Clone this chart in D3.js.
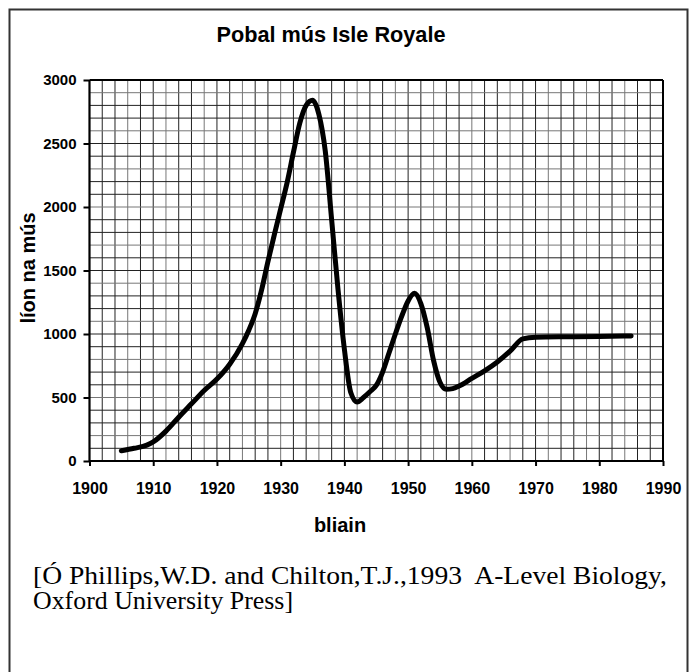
<!DOCTYPE html>
<html>
<head>
<meta charset="utf-8">
<script src="https://cdn.jsdelivr.net/npm/d3@7"></script>
<style>
  html, body { margin: 0; padding: 0; background: #fff; }
  svg { display: block; }
</style>
</head>
<body>
<svg id="chart" width="694" height="672"></svg>
<script>
// ---- data ----
const years = [1905, 1907, 1909, 1910, 1912, 1914, 1916, 1918, 1920, 1922, 1924, 1925, 1926, 1927, 1928, 1929,
  1930, 1931, 1932, 1933, 1934, 1935, 1936, 1937, 1938, 1939, 1940, 1941, 1942, 1943, 1944, 1945,
  1946, 1947, 1948, 1949, 1950, 1951, 1952, 1953, 1954, 1955, 1956, 1957, 1958, 1960, 1962, 1964,
  1966, 1968, 1970, 1975, 1980, 1985];
const moose = [80, 100, 125, 150, 235, 345, 450, 555, 645, 762, 925, 1030, 1160, 1345, 1570, 1780,
  1985, 2190, 2430, 2660, 2800, 2840, 2730, 2440, 1900, 1350, 880, 540, 465, 500, 545, 595,
  700, 850, 1000, 1140, 1260, 1320, 1240, 1050, 790, 620, 565, 570, 590, 650, 710, 780,
  865, 962, 975, 978, 980, 985];
const xTicks = [1900, 1910, 1920, 1930, 1940, 1950, 1960, 1970, 1980, 1990];
const yTicks = [0, 500, 1000, 1500, 2000, 2500, 3000];
const titleText = "Pobal mús Isle Royale";
const xLabel = "bliain";
const yLabel = "líon na mús";
const sourceLines = ["[Ó Phillips,W.D. and Chilton,T.J.,1993  A-Level Biology,", "Oxford University Press]"];

// ---- drawing ----
const svg = d3.select("#chart");
const sans = "'Liberation Sans', Arial, Helvetica, sans-serif";
const serif = "'Liberation Serif', 'Times New Roman', Times, serif";

// outer frame
svg.append("rect").attr("x", 9.5).attr("y", 9.5).attr("width", 678).attr("height", 700)
  .attr("fill", "none").attr("stroke", "#333").attr("stroke-width", 2);

const x = d3.scaleLinear().domain([1900, 1990]).range([89.5, 663]);
const y = d3.scaleLinear().domain([0, 3000]).range([461, 80]);

// grid
const g = svg.append("g");
g.selectAll("line.vg").data(d3.range(1902, 1990, 2)).join("line")
  .attr("x1", d => x(d)).attr("x2", d => x(d)).attr("y1", y(0)).attr("y2", y(3000))
  .attr("stroke", (d, i) => i % 3 === 2 ? "#777" : "#222").attr("stroke-width", 1);
g.selectAll("line.hg").data(d3.range(100, 3000, 100)).join("line")
  .attr("x1", x(1900)).attr("x2", x(1990)).attr("y1", d => y(d)).attr("y2", d => y(d))
  .attr("stroke", (d, i) => i % 3 === 1 ? "#777" : "#222").attr("stroke-width", 1);

// frame of plot
g.append("line").attr("x1", x(1900)).attr("x2", x(1990)).attr("y1", y(3000)).attr("y2", y(3000))
  .attr("stroke", "#000").attr("stroke-width", 2);
g.append("line").attr("x1", x(1990)).attr("x2", x(1990)).attr("y1", y(3000)).attr("y2", y(0))
  .attr("stroke", "#000").attr("stroke-width", 2);

// axes
const xAxis = d3.axisBottom(x).tickValues(xTicks).tickSize(5).tickPadding(17).tickFormat(d3.format("d"));
const yAxis = d3.axisLeft(y).tickValues(yTicks).tickSize(6).tickPadding(7).tickFormat(d3.format("d"));

const gx = svg.append("g").attr("transform", `translate(0,${y(0)})`).call(xAxis);
const gy = svg.append("g").attr("transform", `translate(${x(1900)},0)`).call(yAxis);
[gx, gy].forEach(a => {
  a.select(".domain").attr("stroke", "#000").attr("stroke-width", 2.2);
  a.selectAll(".tick line").attr("stroke", "#000").attr("stroke-width", 2);
  a.selectAll(".tick text").attr("fill", "#000").attr("font-family", sans).attr("font-weight", "bold");
});
gx.selectAll(".tick text").attr("font-size", 16);
gy.selectAll(".tick text").attr("font-size", 15);
gx.select(".domain").attr("d", `M${x(1900)},0H${x(1990)}`);
gy.select(".domain").attr("d", `M0,${y(0)}V${y(3000)}`);

// curve
const pts = years.map((yr, i) => [yr, moose[i]]);
const line = d3.line().x(d => x(d[0])).y(d => y(d[1])).curve(d3.curveMonotoneX);
svg.append("path").attr("d", line(pts)).attr("fill", "none").attr("stroke", "#000")
  .attr("stroke-width", 5).attr("stroke-linecap", "round").attr("stroke-linejoin", "round");

// title and labels
svg.append("text").attr("x", 331).attr("y", 42).attr("text-anchor", "middle")
  .attr("font-family", sans).attr("font-weight", "bold").attr("font-size", 21.7).text(titleText);
svg.append("text").attr("x", 340).attr("y", 532).attr("text-anchor", "middle")
  .attr("font-family", sans).attr("font-weight", "bold").attr("font-size", 20).text(xLabel);
svg.append("text").attr("transform", "translate(35,268) rotate(-90)").attr("text-anchor", "middle")
  .attr("font-family", sans).attr("font-weight", "bold").attr("font-size", 20).text(yLabel);

// source
const srcLen = [634, 260];
svg.append("g").selectAll("text").data(sourceLines).join("text")
  .attr("x", 33).attr("y", (d, i) => 584 + i * 25)
  .attr("font-family", serif).attr("font-size", 25).style("white-space", "pre")
  .attr("textLength", (d, i) => srcLen[i]).attr("lengthAdjust", "spacingAndGlyphs")
  .text(d => d);
</script>
</body>
</html>
